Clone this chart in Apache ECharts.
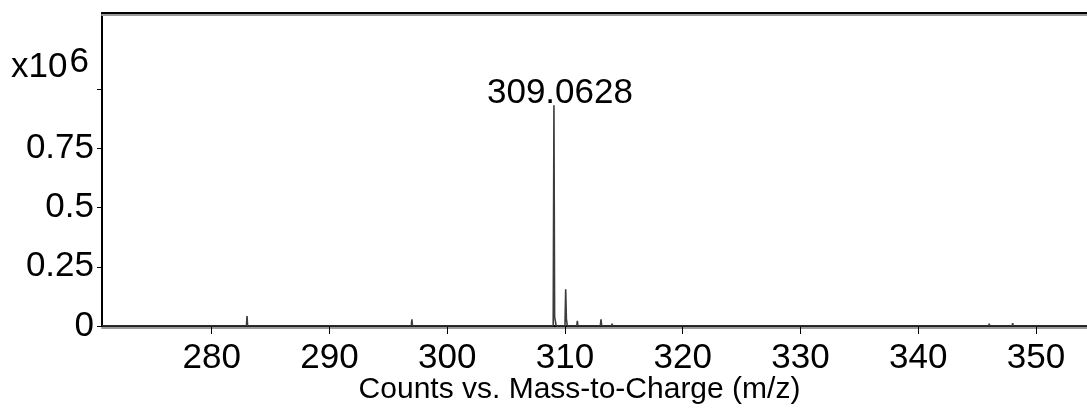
<!DOCTYPE html>
<html>
<head>
<meta charset="utf-8">
<title>Counts vs. Mass-to-Charge</title>
<script src="https://cdn.jsdelivr.net/npm/echarts@6/dist/echarts.min.js"></script>
<style>
  html, body { margin: 0; padding: 0; background: #fff; }
  #chart { width: 1087px; height: 412px; }
</style>
</head>
<body>
<div id="chart"></div>
<script>
// Profile spectrum: m/z and counts (in units of 10^6)
const mz = [
  270.7,
  282.95, 283.0, 283.05,
  283.95, 284.0, 284.05,
  296.95, 297.0, 297.05,
  309.0, 309.0628, 309.12, 309.18, 309.25,
  310.0, 310.06, 310.12, 310.2,
  311.0, 311.05, 311.1,
  313.0, 313.06, 313.12,
  313.95, 314.0, 314.05,
  324.95, 325.0, 325.05,
  345.98, 346.03, 346.08,
  347.97, 348.02, 348.07,
  354.33
];
const counts = [
  0,
  0, 0.042, 0,
  0, 0.008, 0,
  0, 0.028, 0,
  0, 0.93, 0.04, 0.046, 0,
  0, 0.155, 0.03, 0,
  0, 0.022, 0,
  0, 0.028, 0,
  0, 0.01, 0,
  0, 0.008, 0,
  0, 0.01, 0,
  0, 0.012, 0,
  0
];
// Labelled base peak
const basePeak = [309.0628, 0.93];

const xTicks = [280, 290, 300, 310, 320, 330, 340, 350];
const yLabels = [0, 0.25, 0.5, 0.75];
const yTicks = [0, 0.25, 0.5, 0.75, 1];

const FONT = "'Liberation Sans', Arial, sans-serif";
const X_MIN = 270.684;
const X_MAX = 354.33;

const chart = echarts.init(document.getElementById('chart'), null, { renderer: 'canvas' });

const profile = mz.map((m, i) => [m, counts[i]]);

chart.setOption({
  backgroundColor: '#fff',
  animation: false,
  grid: { left: 102, right: 0, top: 13, bottom: 86, containLabel: false, outerBoundsMode: 'none' },
  graphic: [
    {
      type: 'text',
      left: 11,
      top: 45,
      style: {
        text: 'x10{s|6}',
        font: '35px ' + FONT,
        fill: '#000',
        rich: { s: { fontSize: 35, fontFamily: FONT, fill: '#000', padding: [0, 0, 9, 2] } }
      }
    }
  ],
  xAxis: [
    {
      type: 'value',
      min: X_MIN,
      max: X_MAX,
      position: 'bottom',
      splitLine: { show: false },
      axisLine: { show: true, onZero: false,
        lineStyle: { color: '#000', width: 2, shadowColor: '#9a9a9a', shadowOffsetY: 2 } },
      axisTick: { show: true, inside: false, length: 8, customValues: xTicks,
        lineStyle: { color: '#000', width: 1 } },
      axisLabel: { customValues: xTicks, margin: 15, color: '#000',
        fontSize: 35, fontFamily: FONT },
      name: 'Counts vs. Mass-to-Charge (m/z)',
      nameLocation: 'middle',
      nameGap: 49,
      nameMoveOverlap: false,
      nameTextStyle: { color: '#000', fontSize: 30, fontFamily: FONT, padding: [0, 30, 0, 0] }
    },
    {
      type: 'value',
      min: X_MIN,
      max: X_MAX,
      position: 'top',
      splitLine: { show: false },
      axisLine: { show: true, onZero: false,
        lineStyle: { color: '#000', width: 2, shadowColor: '#9a9a9a', shadowOffsetY: 2 } },
      axisTick: { show: false },
      axisLabel: { show: false }
    }
  ],
  yAxis: {
    type: 'value',
    min: 0,
    max: 1.3207,
    splitLine: { show: false },
    axisLine: { show: true, lineStyle: { color: '#000', width: 2 } },
    axisTick: { show: true, inside: false, length: 5, customValues: yTicks,
      lineStyle: { color: '#000', width: 1 } },
    axisLabel: { customValues: yLabels, margin: 8, color: '#000',
      fontSize: 35, fontFamily: FONT, padding: [5, 0, 0, 0] }
  },
  series: [
    {
      type: 'line',
      xAxisIndex: 0,
      data: profile,
      showSymbol: false,
      symbol: 'none',
      lineStyle: { color: '#3c3c3c', width: 1.6 },
      z: 3
    },
    {
      type: 'scatter',
      xAxisIndex: 0,
      data: [basePeak],
      symbolSize: 1,
      itemStyle: { color: '#3c3c3c', opacity: 1 },
      label: {
        show: true,
        position: 'top',
        distance: 1,
        offset: [6, 7],
        color: '#000',
        opacity: 1,
        textBorderWidth: 0,
        fontSize: 35,
        fontFamily: FONT,
        formatter: p => p.value[0].toFixed(4)
      },
      z: 4
    }
  ]
});
</script>
</body>
</html>
